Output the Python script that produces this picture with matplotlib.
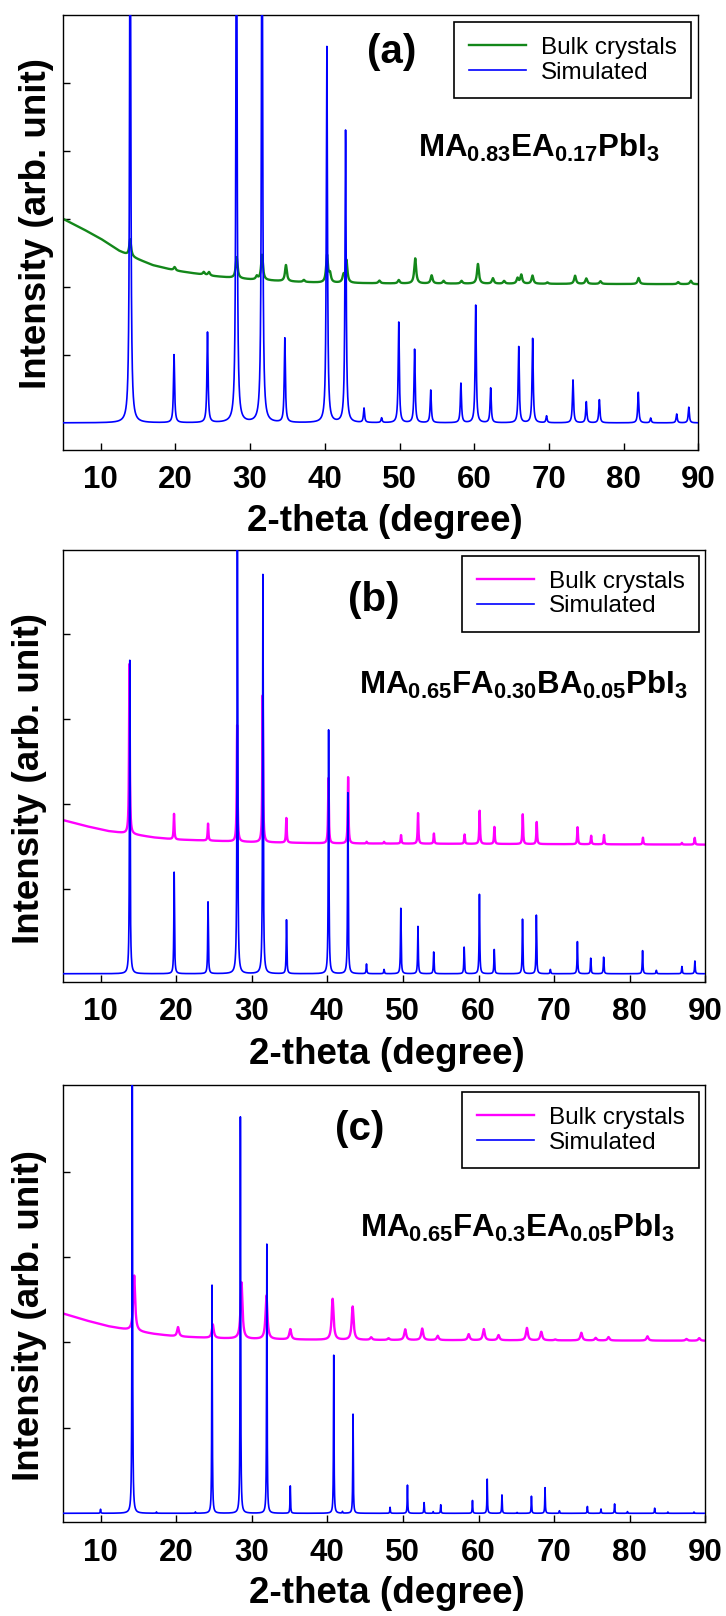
import numpy as np
import matplotlib
matplotlib.use('Agg')
import matplotlib.pyplot as plt

plt.rcParams['font.family'] = ['Liberation Sans', 'DejaVu Sans']
plt.rcParams['mathtext.fontset'] = 'custom'
plt.rcParams['mathtext.rm'] = 'Liberation Sans'
plt.rcParams['mathtext.bf'] = 'Liberation Sans:bold'
plt.rcParams['mathtext.it'] = 'Liberation Sans:italic'

# ---------------- data ----------------
two_theta = np.arange(5.0, 90.0001, 0.005)
x_ticks = [10, 20, 30, 40, 50, 60, 70, 80, 90]
series_labels = ['Bulk crystals', 'Simulated']
panel_labels = ['(a)', '(b)', '(c)']
formulas = [r'$\mathbf{MA_{0.83}EA_{0.17}PbI_{3}}$',
            r'$\mathbf{MA_{0.65}FA_{0.30}BA_{0.05}PbI_{3}}$',
            r'$\mathbf{MA_{0.65}FA_{0.3}EA_{0.05}PbI_{3}}$']

# (a) simulated peaks
sim_a_pos = [13.95, 19.82, 24.3, 28.18, 31.6, 34.65, 40.28, 42.78, 45.25, 47.6, 49.9, 52.02, 54.18,
             58.22, 60.2, 62.2, 65.96, 67.82, 69.68, 73.22, 75.0, 76.75, 81.96, 83.62, 87.1, 88.72]
sim_a_h = [9.0, 1.0, 1.33, 9.0, 9.0, 1.24, 5.53, 4.30, 0.21, 0.07, 1.48, 1.08, 0.48,
           0.58, 1.73, 0.51, 1.12, 1.24, 0.10, 0.63, 0.31, 0.34, 0.45, 0.07, 0.13, 0.23]
# (a) bulk crystal peaks (above background) and background
exp_a_pos = [13.95, 19.9, 23.8, 24.5, 28.2, 30.9, 31.6, 34.8, 37.2, 40.3, 40.7, 42.5, 42.9, 47.3,
             49.9, 52.1, 54.3, 55.9, 58.3, 60.5, 62.5, 64.0, 65.8, 66.3, 67.8, 69.8, 73.5, 75.0,
             76.9, 82.0, 87.3, 89.0]
exp_a_h = [0.25, 0.05, 0.04, 0.05, 0.31, 0.05, 0.37, 0.24, 0.03, 0.40, 0.12, 0.10, 0.33, 0.04,
           0.05, 0.37, 0.12, 0.04, 0.04, 0.29, 0.08, 0.04, 0.08, 0.13, 0.12, 0.02, 0.12, 0.08,
           0.04, 0.09, 0.03, 0.05]
bg_a_x = [5, 7.5, 10, 12.5, 14, 17, 20, 25, 30, 35, 40, 50, 90]
bg_a_y = [3.0, 2.86, 2.71, 2.53, 2.45, 2.32, 2.24, 2.16, 2.11, 2.08, 2.06, 2.05, 2.04]

# (b)
sim_b_pos = [13.87, 19.74, 24.22, 28.1, 31.48, 34.6, 40.17, 42.72, 45.18, 47.5, 49.72, 51.99, 54.07,
             58.1, 60.12, 62.08, 65.82, 67.65, 69.5, 73.08, 74.84, 76.55, 81.7, 83.52, 86.9, 88.62]
sim_b_h = [3.69, 1.195, 0.845, 5.6, 4.70, 0.634, 2.87, 2.13, 0.114, 0.05, 0.77, 0.557, 0.256,
           0.313, 0.935, 0.285, 0.642, 0.69, 0.05, 0.378, 0.183, 0.195, 0.272, 0.04, 0.085, 0.15]
exp_b_pos = [13.82, 19.72, 24.22, 28.07, 31.45, 34.58, 40.15, 42.75, 45.2, 47.5, 49.75, 52.0, 54.1,
             58.15, 60.15, 62.1, 65.85, 67.7, 73.1, 74.9, 76.6, 81.75, 86.9, 88.6]
exp_b_h = [2.0, 0.30, 0.20, 1.37, 1.73, 0.29, 0.77, 0.78, 0.02, 0.02, 0.10, 0.36, 0.12,
           0.11, 0.39, 0.20, 0.35, 0.26, 0.20, 0.10, 0.11, 0.08, 0.02, 0.08]
bg_b_x = [5, 8, 11, 14, 17, 20, 25, 30, 40, 90]
bg_b_y = [1.81, 1.74, 1.68, 1.645, 1.605, 1.58, 1.565, 1.55, 1.535, 1.52]

# (c)
sim_c_pos = [10.0, 14.2, 17.4, 22.55, 24.75, 28.5, 32.0, 35.1, 40.85, 42.0, 43.4, 48.3, 50.6, 52.8,
             54.0, 55.0, 59.2, 61.15, 63.1, 65.1, 67.0, 68.8, 70.7, 74.4, 76.2, 78.0, 79.7, 83.3,
             85.05, 88.5]
sim_c_h = [0.047, 6.0, 0.015, 0.015, 2.67, 4.64, 3.15, 0.32, 1.85, 0.02, 1.16, 0.07, 0.33, 0.125,
           0.02, 0.10, 0.15, 0.40, 0.215, 0.01, 0.20, 0.30, 0.03, 0.08, 0.05, 0.11, 0.02, 0.06,
           0.015, 0.015]
exp_c_pos = [14.45, 20.25, 24.85, 28.65, 31.95, 35.1, 40.7, 43.35, 45.8, 48.1, 50.3, 52.55, 54.6,
             58.7, 60.7, 62.65, 66.4, 68.3, 70.15, 73.6, 75.5, 77.2, 82.35, 87.5, 89.2]
exp_c_h = [0.65, 0.11, 0.16, 0.66, 0.51, 0.12, 0.48, 0.39, 0.03, 0.02, 0.125, 0.135, 0.05,
           0.07, 0.13, 0.06, 0.145, 0.10, 0.01, 0.09, 0.03, 0.04, 0.05, 0.02, 0.03]
bg_c_x = [5, 8, 11, 14, 17, 20, 25, 30, 40, 90]
bg_c_y = [2.34, 2.26, 2.19, 2.14, 2.10, 2.07, 2.05, 2.04, 2.03, 2.02]


def pattern(x, pos, hts, fwhm, bgx=None, bgy=None):
    y = np.zeros_like(x) if bgx is None else np.interp(x, bgx, bgy)
    hw = fwhm / 2.0
    for p, h in zip(pos, hts):
        y = y + h * hw ** 2 / ((x - p) ** 2 + hw ** 2)
    return y


panels = [
    dict(rect=[0.0872, 0.7215, 0.8747, 0.2692], ylim=(-0.40, 6.0), yt=[1, 2, 3, 4, 5],
         sim=(sim_a_pos, sim_a_h, 0.18), exp=(exp_a_pos, exp_a_h, 0.30, bg_a_x, bg_a_y),
         ecol='#13871a', lab=(0.5176, 0.915), form=(0.5586, 0.6736, 22.5),
         leg=(0.9885, 0.9839), ylab=(-0.0425, 0.52), xlab=(0.5066, -0.164)),
    dict(rect=[0.0864, 0.3925, 0.8851, 0.2672], ylim=(-0.094, 4.99), yt=[1, 2, 3, 4],
         sim=(sim_b_pos, sim_b_h, 0.10), exp=(exp_b_pos, exp_b_h, 0.12, bg_b_x, bg_b_y),
         ecol='#ff00ff', lab=(0.4844, 0.884), form=(0.4616, 0.6657, 22.5),
         leg=(0.9902, 0.9861), ylab=(-0.0524, 0.47), xlab=(0.505, -0.169)),
    dict(rect=[0.0864, 0.0580, 0.8851, 0.2704], ylim=(-0.105, 5.01), yt=[1, 2, 3, 4],
         sim=(sim_c_pos, sim_c_h, 0.08), exp=(exp_c_pos, exp_c_h, 0.30, bg_c_x, bg_c_y),
         ecol='#ff00ff', lab=(0.462, 0.90), form=(0.4624, 0.6524, 22.5),
         leg=(0.9902, 0.9847), ylab=(-0.0524, 0.473), xlab=(0.505, -0.164)),
]

fig = plt.figure(figsize=(7.26, 16.16), dpi=100)

for i, pdef in enumerate(panels):
    ax = fig.add_axes(pdef['rect'])
    epos, eh, ew, bx, by = pdef['exp']
    spos, sh, sw = pdef['sim']
    y_exp = pattern(two_theta, epos, eh, ew, bx, by)
    y_sim = pattern(two_theta, spos, sh, sw)
    ax.plot(two_theta, y_exp, color=pdef['ecol'], lw=1.7, label=series_labels[0], zorder=2)
    ax.plot(two_theta, y_sim, color='#0000ff', lw=1.2, label=series_labels[1], zorder=3)
    ax.set_xlim(5, 90)
    ax.set_ylim(*pdef['ylim'])
    ax.set_xticks(x_ticks)
    ax.set_xticklabels([str(t) for t in x_ticks], fontsize=22.5, fontweight='bold')
    ax.set_yticks(pdef['yt'])
    ax.set_yticklabels([])
    ax.tick_params(direction='in', length=5, width=1.0, top=False, right=False,
                   pad=11, color='black')
    for s in ax.spines.values():
        s.set_linewidth(1.0)
        s.set_color('black')
    ax.set_xlabel('2-theta (degree)', fontsize=26.5, fontweight='bold')
    ax.xaxis.label.set_va('center')
    ax.xaxis.set_label_coords(*pdef['xlab'])
    ax.set_ylabel('Intensity (arb. unit)', fontsize=26.5, fontweight='bold')
    ax.yaxis.label.set_va('center')
    ax.yaxis.set_label_coords(*pdef['ylab'])
    ax.text(pdef['lab'][0], pdef['lab'][1], panel_labels[i], transform=ax.transAxes,
            ha='center', va='center', fontsize=29, fontweight='bold')
    fx, fy, fs = pdef['form']
    ax.text(fx, fy, formulas[i], transform=ax.transAxes, ha='left', va='baseline', fontsize=fs)
    leg = ax.legend(loc='upper right', bbox_to_anchor=pdef['leg'], borderaxespad=0,
                    fontsize=17.5, frameon=True, fancybox=False, edgecolor='black',
                    framealpha=1, handlelength=2.35, handletextpad=0.6, borderpad=0.6,
                    labelspacing=0.12)
    leg.get_frame().set_linewidth(1.2)

fig.savefig('out.png', dpi=100)
